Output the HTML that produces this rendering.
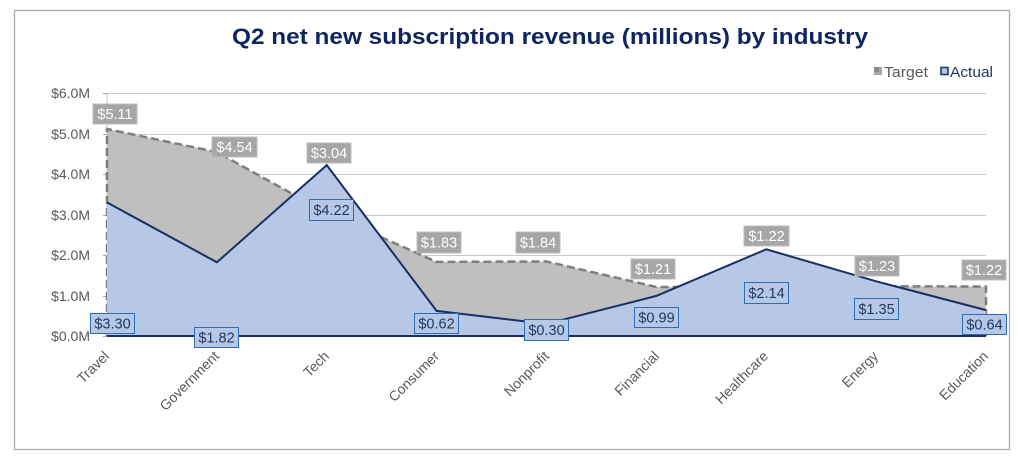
<!DOCTYPE html>
<html>
<head>
<meta charset="utf-8">
<style>
html,body{margin:0;padding:0;background:#fff;}
svg{display:block;}
text{font-family:"Liberation Sans",Arial,sans-serif;}
</style>
</head>
<body>
<svg width="1022" height="460" viewBox="0 0 1022 460" xmlns="http://www.w3.org/2000/svg">
<rect x="0" y="0" width="1022" height="460" fill="#fff"/>
<rect x="14.5" y="10.5" width="995" height="439" fill="#fff" stroke="#ababab" stroke-width="1.3"/>

<!-- Title -->
<text x="550" y="44" text-anchor="middle" font-size="22" font-weight="bold" fill="#0f2560" textLength="636" lengthAdjust="spacingAndGlyphs">Q2 net new subscription revenue (millions) by industry</text>

<!-- Legend -->
<rect x="874" y="67" width="8" height="8" fill="#a6a6a6"/>
<rect x="874" y="67" width="5" height="5" fill="#8c8c8c"/>
<text x="884" y="77" font-size="14.5" fill="#595959" textLength="44" lengthAdjust="spacingAndGlyphs">Target</text>
<rect x="941" y="67.5" width="7" height="7" fill="#b4c7e7" stroke="#1f3864" stroke-width="1.6"/>
<text x="950" y="77" font-size="14.5" fill="#1f3864" textLength="43" lengthAdjust="spacingAndGlyphs">Actual</text>

<!-- Gridlines -->
<g stroke="#c8c8c8" stroke-width="1">
<line x1="107" y1="93.5" x2="986" y2="93.5"/>
<line x1="107" y1="134.5" x2="986" y2="134.5"/>
<line x1="107" y1="174.5" x2="986" y2="174.5"/>
<line x1="107" y1="215.5" x2="986" y2="215.5"/>
<line x1="107" y1="255.5" x2="986" y2="255.5"/>
<line x1="107" y1="296.5" x2="986" y2="296.5"/>
</g>
<line x1="107" y1="93" x2="107" y2="336" stroke="#c8c8c8" stroke-width="1"/>
<g stroke="#a6a6a6" stroke-width="1">
<line x1="103" y1="93.5" x2="107" y2="93.5"/>
<line x1="103" y1="134.5" x2="107" y2="134.5"/>
<line x1="103" y1="174.5" x2="107" y2="174.5"/>
<line x1="103" y1="215.5" x2="107" y2="215.5"/>
<line x1="103" y1="255.5" x2="107" y2="255.5"/>
<line x1="103" y1="296.5" x2="107" y2="296.5"/>
<line x1="103" y1="336.5" x2="107" y2="336.5"/>
</g>

<!-- Y labels -->
<g font-size="14" fill="#595959" text-anchor="end">
<text x="90" y="98">$6.0M</text>
<text x="90" y="139">$5.0M</text>
<text x="90" y="179">$4.0M</text>
<text x="90" y="220">$3.0M</text>
<text x="90" y="260">$2.0M</text>
<text x="90" y="301">$1.0M</text>
<text x="90" y="341">$0.0M</text>
</g>

<!-- Target area -->
<polygon points="107,129 216.9,152.1 326.75,212.9 436.6,261.9 546.5,261.5 656.4,287 766.25,286.6 876.1,286.2 986,286.6 986,336 107,336" fill="#bfbfbf"/>
<polyline points="107,336 107,129 216.9,152.1 326.75,212.9 436.6,261.9 546.5,261.5 656.4,287 766.25,286.6 876.1,286.2 986,286.6 986,336" fill="none" stroke="#7f7f7f" stroke-width="2.5" stroke-dasharray="8,4"/>

<!-- Actual area -->
<polygon points="107,202.4 216.9,262.3 326.75,165.1 436.6,310.9 546.5,323.9 656.4,295.9 766.25,249.3 876.1,281.3 986,310.1 986,336 107,336" fill="#b6c8e6"/>
<polyline points="107,202.4 216.9,262.3 326.75,165.1 436.6,310.9 546.5,323.9 656.4,295.9 766.25,249.3 876.1,281.3 986,310.1" fill="none" stroke="#182f66" stroke-width="2" stroke-linejoin="miter"/>
<line x1="107" y1="336" x2="986" y2="336" stroke="#182f66" stroke-width="2"/>

<!-- Target labels -->
<g font-size="14.5" fill="#fff" text-anchor="middle">
<rect x="93" y="104" width="44" height="20" fill="#a6a6a6" stroke="#bdbdbd" stroke-width="1"/><text x="115" y="119">$5.11</text>
<rect x="212" y="137" width="45" height="20" fill="#a6a6a6" stroke="#bdbdbd" stroke-width="1"/><text x="234.5" y="152">$4.54</text>
<rect x="307" y="143" width="44" height="20" fill="#a6a6a6" stroke="#bdbdbd" stroke-width="1"/><text x="329" y="158">$3.04</text>
<rect x="417" y="232" width="44" height="21" fill="#a6a6a6" stroke="#bdbdbd" stroke-width="1"/><text x="439" y="247.5">$1.83</text>
<rect x="516" y="232" width="44" height="21" fill="#a6a6a6" stroke="#bdbdbd" stroke-width="1"/><text x="538" y="247.5">$1.84</text>
<rect x="631" y="259" width="44" height="20" fill="#a6a6a6" stroke="#bdbdbd" stroke-width="1"/><text x="653" y="274">$1.21</text>
<rect x="744" y="226" width="45" height="20" fill="#a6a6a6" stroke="#bdbdbd" stroke-width="1"/><text x="766.5" y="241">$1.22</text>
<rect x="855" y="256" width="44" height="20" fill="#a6a6a6" stroke="#bdbdbd" stroke-width="1"/><text x="877" y="271">$1.23</text>
<rect x="962" y="260" width="44" height="20" fill="#a6a6a6" stroke="#bdbdbd" stroke-width="1"/><text x="984" y="275">$1.22</text>
</g>

<!-- Actual labels -->
<g font-size="14.5" fill="#1f3864" text-anchor="middle">
<rect x="90.5" y="313.5" width="44" height="20" fill="#b6c8e6" stroke="#2e6db4" stroke-width="1"/><text x="112.5" y="328.5">$3.30</text>
<rect x="194.5" y="327.5" width="44" height="20" fill="#b6c8e6" stroke="#2e6db4" stroke-width="1"/><text x="216.5" y="342.5">$1.82</text>
<rect x="309.5" y="199.5" width="44" height="21" fill="#b6c8e6" stroke="#2e6db4" stroke-width="1"/><text x="331.5" y="215">$4.22</text>
<rect x="414.5" y="313.5" width="44" height="20" fill="#b6c8e6" stroke="#2e6db4" stroke-width="1"/><text x="436.5" y="328.5">$0.62</text>
<rect x="524.5" y="319.5" width="44" height="21" fill="#b6c8e6" stroke="#2e6db4" stroke-width="1"/><text x="546.5" y="335">$0.30</text>
<rect x="634.5" y="307.5" width="44" height="20" fill="#b6c8e6" stroke="#2e6db4" stroke-width="1"/><text x="656.5" y="322.5">$0.99</text>
<rect x="744.5" y="282.5" width="44" height="21" fill="#b6c8e6" stroke="#2e6db4" stroke-width="1"/><text x="766.5" y="298">$2.14</text>
<rect x="854.5" y="298.5" width="44" height="21" fill="#b6c8e6" stroke="#2e6db4" stroke-width="1"/><text x="876.5" y="314">$1.35</text>
<rect x="962.5" y="314.5" width="44" height="20" fill="#b6c8e6" stroke="#2e6db4" stroke-width="1"/><text x="984.5" y="329.5">$0.64</text>
</g>

<!-- Category labels -->
<g font-size="14" fill="#595959" text-anchor="end">
<text transform="translate(110,357) rotate(-45)">Travel</text>
<text transform="translate(220,357) rotate(-45)">Government</text>
<text transform="translate(330,357) rotate(-45)">Tech</text>
<text transform="translate(440,357) rotate(-45)">Consumer</text>
<text transform="translate(550,357) rotate(-45)">Nonprofit</text>
<text transform="translate(660,357) rotate(-45)">Financial</text>
<text transform="translate(769,357) rotate(-45)">Healthcare</text>
<text transform="translate(879,357) rotate(-45)">Energy</text>
<text transform="translate(989,357) rotate(-45)">Education</text>
</g>
</svg>
</body>
</html>
